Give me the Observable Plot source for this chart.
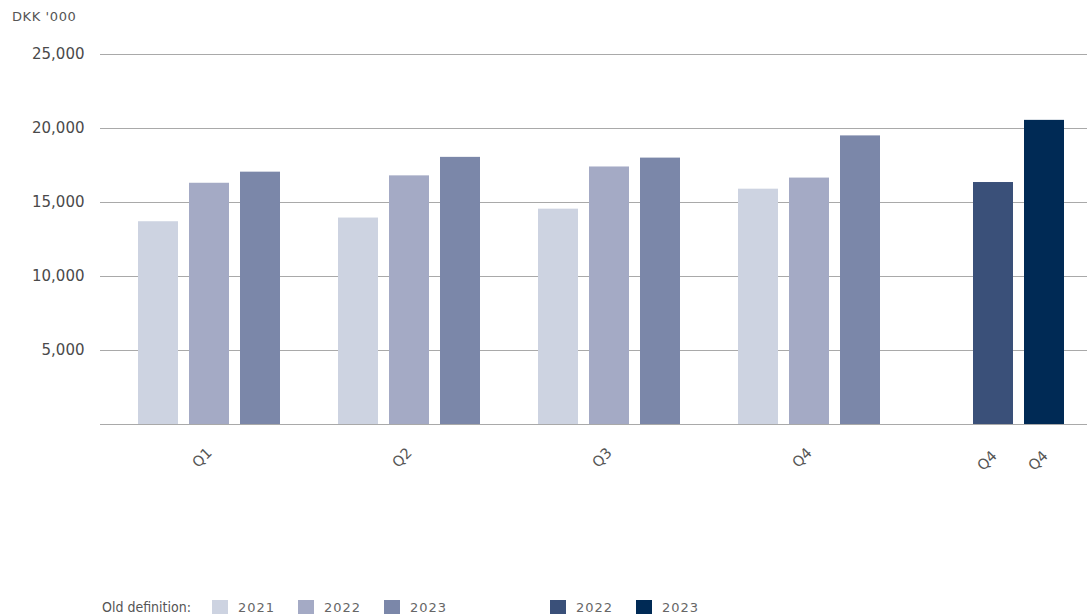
<!DOCTYPE html>
<html>
<head>
<meta charset="utf-8">
<script src="https://cdn.jsdelivr.net/npm/d3@7"></script>
<script src="https://cdn.jsdelivr.net/npm/@observablehq/plot@0.6"></script>
<style>
  html, body { margin: 0; padding: 0; background: #fff; overflow: hidden; width: 1087px; height: 616px; }
  #wrap { position: relative; width: 1087px; height: 616px; font-family: "DejaVu Sans", sans-serif; overflow: hidden; }
  #title { position: absolute; left: 12px; top: 9px; font-size: 13px; color: #555; letter-spacing: 0.6px; }
  #chart { position: absolute; left: 0; top: 36px; }
  #legend { position: absolute; left: 102px; top: 599px; display: flex; align-items: center; font-size: 13px; color: #666; }
  #legend .lab { font-family: "Liberation Sans Narrow", "DejaVu Sans Condensed", sans-serif; width: 110px; font-size: 14px; color: #555; }
  #legend .item { display: flex; align-items: center; width: 86px; }
  #legend .sw { width: 16px; height: 14px; margin-right: 10px; }
  #legend .gap { width: 80px; }
  #legend .txt { letter-spacing: 1px; }
</style>
</head>
<body>
<div id="wrap">
  <div id="title">DKK '000</div>
  <div id="chart"></div>
  <div id="legend"></div>
</div>
<script>
// ---- data ----
const quarters = ["Q1", "Q2", "Q3", "Q4"];
const oldYears = ["2021", "2022", "2023"];
const old2021 = [13700, 13950, 14550, 15900];
const old2022 = [16300, 16800, 17400, 16650];
const old2023 = [17050, 18050, 18000, 19500];
const newGroup = "New";
const newYears = ["2022", "2023"];
const newQ4 = [16350, 20550];
const newLabels = ["Q4", "Q4"];
const yTicks = [5000, 10000, 15000, 20000, 25000];
const legendTitle = "Old definition:";

const oldColors = ["#cdd3e1", "#a4aac5", "#7b87a9"];
const newColors = ["#3a5079", "#002a55"];

// ---- table ----
const oldSeries = [old2021, old2022, old2023];
const rows = [];
quarters.forEach((q, i) => {
  oldYears.forEach((yr, j) => {
    rows.push({group: q, year: yr, key: "old" + yr, value: oldSeries[j][i], isNew: false});
  });
});
newYears.forEach((yr, j) => {
  rows.push({group: newGroup, year: yr, key: "new" + yr, value: newQ4[j], isNew: true});
});
const oldRows = rows.filter(d => !d.isNew);
const newRows = rows.filter(d => d.isNew);
const labelOld = quarters.map(q => ({group: q, year: "2022", label: q}));
const labelNew = newYears.map((yr, j) => ({group: newGroup, year: yr, label: newLabels[j]}));

const colorDomain = [...oldYears.map(y => "old" + y), ...newYears.map(y => "new" + y)];
const colorRange = [...oldColors, ...newColors];

const font = "DejaVu Sans, sans-serif";

const chart = Plot.plot({
  width: 1087,
  height: 540,
  marginLeft: 101,
  marginRight: 0,
  marginTop: 18,
  marginBottom: 152,
  style: {fontFamily: font, background: "transparent", overflow: "visible"},
  fx: {domain: [...quarters, newGroup], range: [100, 1100], padding: 0, axis: null},
  x: {domain: oldYears, paddingInner: 0.2115, paddingOuter: 0.529, align: 0.6545, axis: null},
  y: {domain: [0, 25000], axis: null},
  color: {domain: colorDomain, range: colorRange},
  marks: [
    Plot.gridY({ticks: yTicks, stroke: "#a9a9a9", strokeOpacity: 1, strokeWidth: 1.2}),
    Plot.ruleY([0], {stroke: "#a9a9a9", strokeWidth: 1.2}),
    Plot.axisY({
      ticks: yTicks, tickFormat: d3.format(","), tickSize: 0, tickPadding: 16,
      fontSize: 15, fill: "#4a4a4a", label: null,
      style: {letterSpacing: "1px"}
    }),
    Plot.barY(oldRows, {fx: "group", x: "year", y: "value", fill: "key"}),
    Plot.barY(newRows, {fx: "group", x: "year", y: "value", fill: "key", dx: -16}),
    Plot.text(labelOld, {fx: "group", x: "year", y: 0, text: "label", rotate: -45, textAnchor: "end",
      dy: 26, dx: 0, fontSize: 14.5, fill: "#555"}),
    Plot.text(labelNew, {fx: "group", x: "year", y: 0, text: "label", rotate: -45, textAnchor: "end",
      dy: 29, dx: -15, fontSize: 14.5, fill: "#555"})
  ]
});
document.getElementById("chart").appendChild(chart);

// ---- legend ----
const legend = document.getElementById("legend");
const lab = document.createElement("div");
lab.className = "lab";
lab.textContent = legendTitle;
legend.appendChild(lab);
function addItem(text, color) {
  const it = document.createElement("div");
  it.className = "item";
  const sw = document.createElement("div");
  sw.className = "sw";
  sw.style.background = color;
  const t = document.createElement("span");
  t.className = "txt";
  t.textContent = text;
  it.appendChild(sw); it.appendChild(t);
  legend.appendChild(it);
}
oldYears.forEach((y, i) => addItem(y, oldColors[i]));
const gap = document.createElement("div");
gap.className = "gap";
legend.appendChild(gap);
newYears.forEach((y, i) => addItem(y, newColors[i]));
</script>
</body>
</html>
